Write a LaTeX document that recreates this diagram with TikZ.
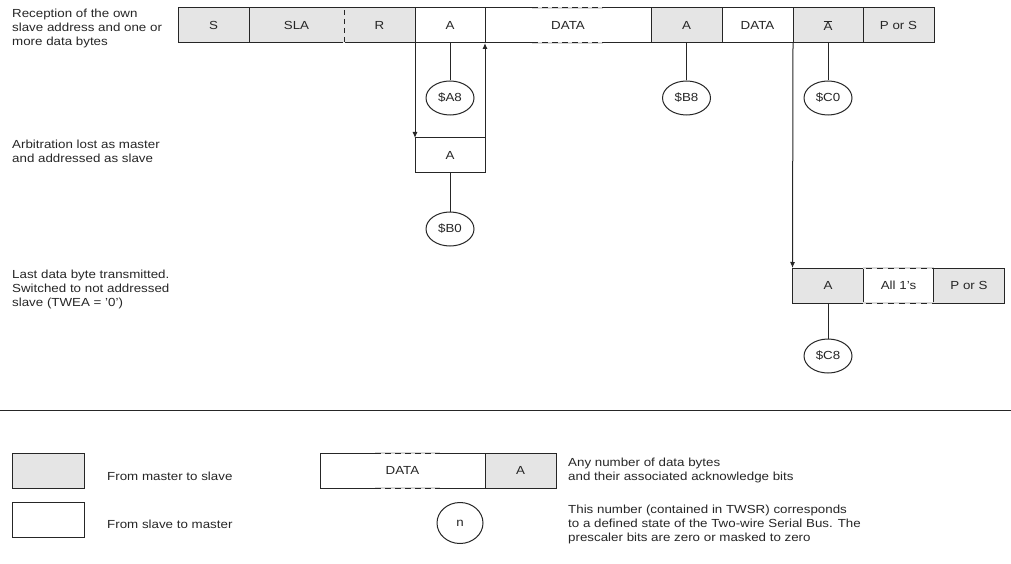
\documentclass[tikz,border=0pt]{standalone}
\usepackage{fontspec}
\setmainfont{Liberation Sans}[FakeStretch=1.14]
\usetikzlibrary{arrows.meta,shapes.geometric,calc}
\begin{document}
\begin{tikzpicture}[x=1pt,y=-1pt,
  every node/.style={font=\fontsize{11.7}{14}\selectfont, text=black!85},
  box/.style={draw=black!85, line width=1pt, minimum height=35pt, inner sep=0pt, outer sep=0pt},
  gbox/.style={box, fill=gray!20},
  wbox/.style={box, fill=white},
  state/.style={ellipse, draw=black!85, line width=1pt, minimum width=48pt, minimum height=34pt, inner sep=0pt, fill=white},
  lab/.style={align=left, anchor=north west, inner sep=0pt},
  one/.style={anchor=base west, inner sep=0pt},
  conn/.style={draw=black!85, line width=1pt},
  arr/.style={conn, -{Latex[length=6pt,width=5pt]}},
  dsh/.style={draw=black!85, line width=1pt, dash pattern=on 6pt off 4pt},
  gap/.style={draw=gray!30, line width=1.2pt},
]
\useasboundingbox (0,0) rectangle (1011,564);

% left labels
\node[lab] (l1) at (12,9) {Reception of the own\\slave address and one or\\more data bytes};
\node[lab] (l2) at (12,140) {Arbitration lost as master\\and addressed as slave};
\node[lab] (l3) at (12,269.5) {Last data byte transmitted.\\Switched to not addressed\\slave (TWEA = '0')};

% top row
\node[gbox, minimum width=71pt] (tS) at (213.5,25.5) {S};
\node[gbox, minimum width=95pt] (tSLA) at (296.5,25.5) {SLA};
\node[gbox, minimum width=71pt] (tR) at (379.5,25.5) {R};
\node[wbox, minimum width=70pt] (tA) at (450,25.5) {A};
\node[wbox, minimum width=166pt] (tD1) at (568,25.5) {DATA};
\node[gbox, minimum width=71pt] (tA2) at (686.5,25.5) {A};
\node[wbox, minimum width=71pt] (tD2) at (757.5,25.5) {DATA};
\node[gbox, minimum width=70pt] (tNA) at (828,25.5) {$\overline{\hbox{A}}$};
\node[gbox, minimum width=71pt] (tP) at (898.5,25.5) {P or S};

% dashed boundary SLA/R
\draw[draw=gray!20, line width=1.6pt] (tSLA.north east) -- (tSLA.south east);
\draw[dsh, dash pattern=on 5pt off 4pt] ($(tSLA.north east)+(0,2)$) -- (tSLA.south east);
% dashed portion of DATA
\draw[gap] ($(tD1.north west)+(47,0)$) -- ($(tD1.north west)+(118,0)$);
\draw[dsh] ($(tD1.north west)+(47,0)$) -- ($(tD1.north west)+(118,0)$);
\draw[gap] ($(tD1.south west)+(47,0)$) -- ($(tD1.south west)+(118,0)$);
\draw[dsh] ($(tD1.south west)+(47,0)$) -- ($(tD1.south west)+(118,0)$);

% states top
\node[state] (sA8) at (450,98) {\$A8};
\node[state] (sB8) at (686.5,98) {\$B8};
\node[state] (sC0) at (828,98) {\$C0};
\draw[conn] (tA.south) -- (sA8.north);
\draw[conn] (tA2.south) -- (sB8.north);
\draw[conn] (tNA.south) -- (sC0.north);

% arbitration row
\node[wbox, minimum width=70pt] (mA) at (450,155.5) {A};
\node[state] (sB0) at (450,229) {\$B0};
\draw[conn] (mA.south) -- (sB0.north);
\draw[arr] (tA.south west) -- (mA.north west);
\draw[arr] (mA.north east) -- (tA.south east);

% last data byte row
\node[gbox, minimum width=71pt] (bA) at (828,285.5) {A};
\node[wbox, minimum width=71pt] (b1) at (898.5,285.5) {All 1's};
\node[gbox, minimum width=71pt] (bP) at (969,285.5) {P or S};
\draw[gap] (b1.north west) -- (b1.north east);
\draw[dsh, dash pattern=on 6pt off 5pt] ($(b1.north west)+(3,0)$) -- (b1.north east);
\draw[gap] (b1.south west) -- (b1.south east);
\draw[dsh, dash pattern=on 6pt off 5pt] ($(b1.south west)+(3,0)$) -- (b1.south east);
\node[state] (sC8) at (828,356) {\$C8};
\draw[conn] (bA.south) -- (sC8.north);
\draw[arr] (tNA.south west) -- (bA.north west);

% separator
\coordinate (rl) at (0,410);
\coordinate (rr) at (1011,410);
\draw[conn] (rl) -- (rr);

% legend
\node[gbox, minimum width=72pt] (kg) at (48,470.5) {};
\node[wbox, minimum width=72pt] (kw) at (48,519.5) {};
\node[one] (kgt) at (107,480.5) {From master to slave};
\node[one] (kwt) at (107,528) {From slave to master};

\node[wbox, minimum width=165pt] (kD) at (402.5,470.5) {DATA};
\node[gbox, minimum width=71pt] (kA) at (520.5,470.5) {A};
\draw[gap] ($(kD.north west)+(55,0)$) -- ($(kD.north west)+(120,0)$);
\draw[dsh] ($(kD.north west)+(55,0)$) -- ($(kD.north west)+(120,0)$);
\draw[gap] ($(kD.south west)+(55,0)$) -- ($(kD.south west)+(120,0)$);
\draw[dsh] ($(kD.south west)+(55,0)$) -- ($(kD.south west)+(120,0)$);
\node[lab] (kDt) at (568,458) {Any number of data bytes\\and their associated acknowledge bits};

\node[state, minimum width=46pt, minimum height=41pt] (kn) at (460,523) {n};
\node[lab] (knt) at (568,505) {This number (contained in TWSR) corresponds\\to a defined state of the Two-wire Serial Bus. The\\prescaler bits are zero or masked to zero};
\end{tikzpicture}
\end{document}
